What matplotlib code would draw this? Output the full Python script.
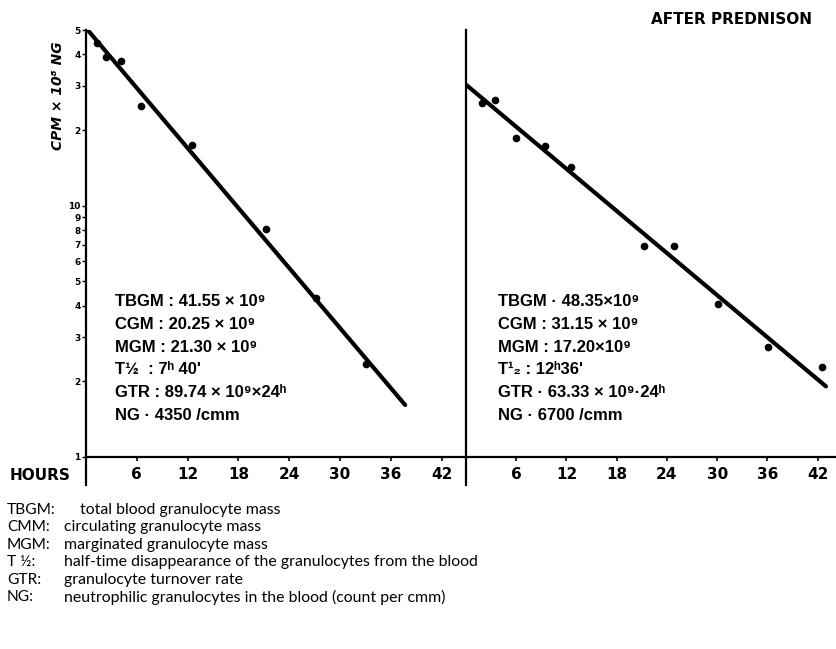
import matplotlib.pyplot as plt

W, H = 836, 649  # output size in pixels (dpi 100)

# data
hour_ticks = [6, 12, 18, 24, 30, 36, 42]
y_ticks = [1, 2, 3, 4, 5, 6, 7, 8, 9, 10, 20, 30, 40, 50]
y_tick_labels = ["1", "2", "3", "4", "5", "6", "7", "8", "9", "10", "2", "3", "4", "5"]

before_hours = [1.3, 2.4, 4.1, 6.5, 12.5, 21.3, 27.2, 33.1]
before_values = [44.5, 39.1, 37.7, 24.9, 17.5, 8.1, 4.3, 2.35]
before_fit_hours = [0.2, 37.7]
before_fit_values = [50, 1.61]

after_hours = [1.9, 3.5, 6.0, 9.4, 12.5, 21.3, 24.8, 30.1, 36.1, 42.5]
after_values = [25.5, 26.4, 18.6, 17.2, 14.3, 6.9, 6.9, 4.06, 2.75, 2.29]
after_fit_hours = [0, 43]
after_fit_values = [30.3, 1.91]

before_stats = [
    "TBGM : 41.55 × 10⁹",
    "CGM : 20.25 × 10⁹",
    "MGM : 21.30 × 10⁹",
    "T½  : 7ʰ 40'",
    "GTR : 89.74 × 10⁹×24ʰ",
    "NG · 4350 /cmm",
]
after_stats = [
    "TBGM · 48.35×10⁹",
    "CGM : 31.15 × 10⁹",
    "MGM : 17.20×10⁹",
    "T¹₂ : 12ʰ36'",
    "GTR · 63.33 × 10⁹·24ʰ",
    "NG · 6700 /cmm",
]

legend_terms = ["TBGM:", "CMM:", "MGM:", "T ½:", "GTR:", "NG:"]
legend_texts = [
    "total blood granulocyte mass",
    "circulating granulocyte mass",
    "marginated granulocyte mass",
    "half-time disappearance of the granulocytes from the blood",
    "granulocyte turnover rate",
    "neutrophilic granulocytes in the blood (count per cmm)",
]


def fx(px):
    return px / W


def fy(py):
    return 1 - py / H


def setup_panel(ax, xmax, with_y_labels):
    ax.set_yscale("log")
    ax.set_ylim(1, 50)
    ax.set_xlim(0, xmax)
    for side in ("top", "right", "left"):
        ax.spines[side].set_visible(False)
    ax.spines["bottom"].set_linewidth(1.6)
    # vertical axis line, running a bit below the hours axis
    ax.axvline(0, ymin=-0.066, ymax=1, color="black", lw=1.6, clip_on=False)
    ax.set_xticks(hour_ticks)
    ax.set_xticklabels([str(h) for h in hour_ticks], fontweight="bold", fontsize=11)
    ax.tick_params(axis="x", direction="out", length=3, width=1.2, pad=4)
    ax.minorticks_off()
    if with_y_labels:
        ax.set_yticks(y_ticks)
        ax.set_yticklabels(y_tick_labels, fontweight="bold", fontsize=6.5)
        ax.tick_params(axis="y", direction="out", length=3, width=1.0, pad=1)
    else:
        ax.set_yticks([])


def stats_block(ax, lines, x):
    for i, line in enumerate(lines):
        ax.text(x, 0.363 - i * 0.053, line, transform=ax.transAxes,
                fontsize=12, fontweight="bold",
                family=["Liberation Sans", "DejaVu Sans"],
                va="center", ha="left")


fig = plt.figure(figsize=(W / 100, H / 100), dpi=100)
fig.patch.set_facecolor("white")

ax1 = fig.add_axes([fx(86), fy(457), fx(467 - 86), 427 / H])
setup_panel(ax1, 45, True)
ax1.plot(before_fit_hours, before_fit_values, color="black", lw=3, solid_capstyle="round")
ax1.plot(before_hours, before_values, "o", color="black", ms=4.5)
stats_block(ax1, before_stats, 0.076)

ax2 = fig.add_axes([fx(466), fy(457), fx(836 - 466), 427 / H])
setup_panel(ax2, 44.2, False)
ax2.plot(after_fit_hours, after_fit_values, color="black", lw=3, solid_capstyle="round")
ax2.plot(after_hours, after_values, "o", color="black", ms=4.5)
stats_block(ax2, after_stats, 0.086)

fig.text(fx(58), fy(96), "CPM × 10⁸ NG", rotation=90, ha="center", va="center",
         fontsize=10, fontweight="bold", fontstyle="italic")
fig.text(fx(10), fy(475), "HOURS", ha="left", va="center", fontsize=11, fontweight="bold")
fig.text(fx(812), fy(19), "AFTER PREDNISON", ha="right", va="center",
         fontsize=11, fontweight="bold")

for i, (term, desc) in enumerate(zip(legend_terms, legend_texts)):
    y = fy(510 + i * 17.4)
    fig.text(fx(7), y, term, ha="left", va="center", fontsize=11.2, family="Lato")
    fig.text(fx(80 if i == 0 else 64), y, desc, ha="left", va="center",
             fontsize=11.4, family="Lato")

fig.savefig("out.png", dpi=100)
